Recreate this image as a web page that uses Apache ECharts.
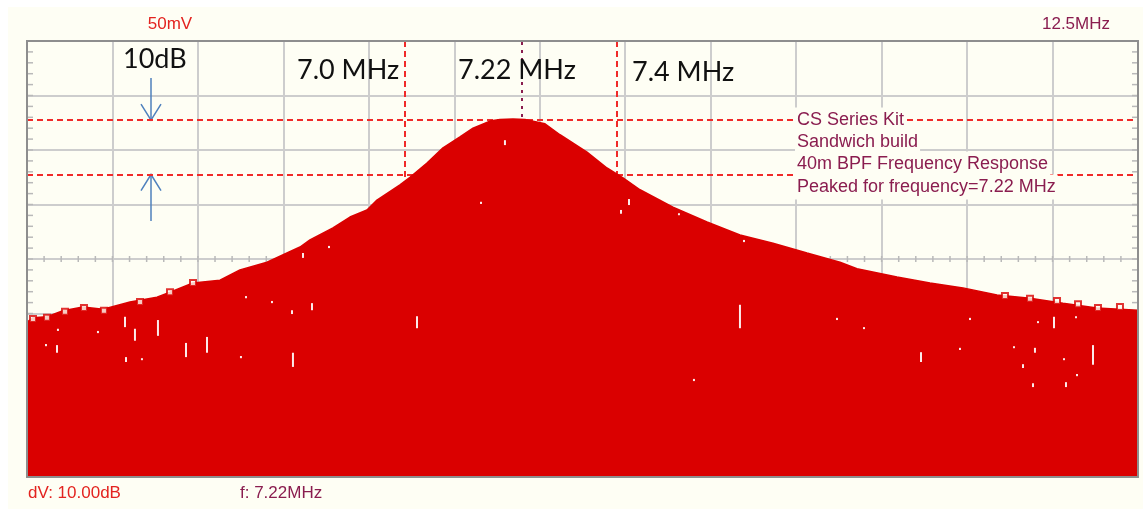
<!DOCTYPE html>
<html>
<head>
<meta charset="utf-8">
<title>40m BPF Frequency Response</title>
<script src="https://cdn.jsdelivr.net/npm/echarts@6/dist/echarts.min.js"></script>
<style>
  html, body { margin: 0; background: #ffffff; }
  #scope { position: absolute; left: 8px; top: 7px; width: 1135px; height: 502px; }
</style>
</head>
<body>
<div id="scope"></div>
<script>
// Frequency span shown on screen (MHz) and vertical scale (dB, 10 dB per division)
const X_MIN = 6.2874;
const X_MAX = 8.3836;
const Y_MIN = -80;
const Y_MAX = 0;
const H_DIVS = 13;
const V_DIVS = 8;

// Spectrum trace: frequency (MHz) and level (dB)
const traceFreq = [6.2874, 6.2987, 6.3251, 6.3553, 6.3930, 6.4308, 6.4817, 6.5326, 6.5572, 6.6006,
  6.6515, 6.6892, 6.7402, 6.7779, 6.8025, 6.8213, 6.8647, 6.8968, 6.9289, 6.9477,
  6.9911, 7.0100, 7.0421, 7.0723, 7.1043, 7.1289, 7.1609, 7.1798, 7.2043, 7.2270,
  7.2421, 7.2647, 7.2930, 7.3440, 7.3817, 7.4119, 7.4440, 7.5062, 7.5704, 7.6326,
  7.6949, 7.7591, 7.8213, 7.8534, 7.9289, 7.9911, 8.0534, 8.1175, 8.1798, 8.2421,
  8.3062, 8.3836];
const traceDb = [-51.6, -50.8, -50.6, -49.5, -48.8, -49.2, -47.9, -47.0, -46.1, -44.4,
  -43.9, -42.0, -40.6, -38.9, -37.8, -36.5, -34.3, -32.3, -31.0, -29.2,
  -26.4, -25.0, -22.4, -19.6, -17.6, -16.0, -14.7, -14.4, -14.3, -14.4,
  -14.7, -15.2, -17.2, -20.4, -23.3, -25.1, -27.3, -30.5, -33.2, -35.6,
  -37.1, -38.9, -40.6, -41.8, -43.3, -44.4, -45.3, -46.6, -47.2, -48.1,
  -49.0, -49.4];

// Isolated hold samples sitting just above the trace edge
const bumpFreq = [6.2987, 6.3251, 6.3591, 6.3949, 6.4326, 6.5006, 6.5572, 6.6006,
  8.1326, 8.1798, 8.2308, 8.2704, 8.3081, 8.3496];
const bumpDb = [-51.0, -50.8, -49.7, -49.0, -49.5, -47.9, -46.1, -44.4,
  -46.8, -47.3, -47.7, -48.3, -49.0, -48.8];

// Missing samples inside the filled trace: frequency and dB span
const dropFreq = [6.4911, 6.5345, 6.4723, 6.6270, 6.5874, 6.3440, 6.3232, 6.4742, 6.5043, 6.6911,
  6.7892, 6.7496, 6.7874, 6.7006, 6.4213, 6.3458, 6.8251, 7.0232, 7.1892, 7.1440,
  6.8081, 6.8572, 7.4232, 7.4081, 7.5175, 7.6402, 7.6326, 7.5458, 7.9742, 8.2251,
  8.2987, 8.1892, 8.1855, 8.2477, 8.1666, 8.1496, 8.2440, 8.2685, 8.0477, 8.0666,
  7.8666, 7.8157, 8.1949, 8.2666];
const dropTopDb = [-52.8, -51.2, -50.6, -54.3, -55.4, -55.8, -55.6, -58.0, -58.2, -57.8,
  -57.2, -47.7, -49.4, -46.8, -53.2, -52.8, -48.1, -50.5, -18.2, -29.5,
  -38.9, -37.6, -29.0, -31.0, -31.6, -36.5, -48.4, -62.0, -57.1, -50.6,
  -55.8, -56.3, -62.8, -62.6, -59.3, -56.0, -58.2, -61.1, -56.3, -50.8,
  -52.5, -50.8, -51.4, -50.5];
const dropBottomDb = [-55.0, -54.1, -52.5, -57.2, -58.0, -57.2, -56.0, -58.9, -58.5, -58.2,
  -59.8, -48.1, -50.1, -47.2, -53.6, -53.2, -49.4, -52.7, -19.1, -29.9,
  -39.8, -38.0, -30.1, -31.7, -31.9, -36.9, -52.7, -62.4, -58.9, -52.7,
  -59.4, -57.2, -63.5, -63.5, -60.0, -56.3, -58.5, -61.5, -56.7, -51.2,
  -52.8, -51.2, -51.7, -50.8];

// Cursors
const cursorFreqs = [7.0, 7.4];
const peakFreq = 7.22;
const refLevelsDb = [-14.5, -24.5];

// Texts
const topLeftLabel = '50mV';
const topRightLabel = '12.5MHz';
const bottomLeftLabel = 'dV: 10.00dB';
const bottomMidLabel = 'f: 7.22MHz';
const cursorLabels = ['7.0 MHz', '7.22 MHz', '7.4 MHz'];
const spanLabel = '10dB';
const noteLines = ['CS Series Kit', 'Sandwich build', '40m BPF Frequency Response', 'Peaked for frequency=7.22 MHz'];

const PANEL = '#fefef4';
const GRID_LINE = '#cdcdcd';
const TRACE_RED = '#da0000';
const CURSOR_RED = '#f02a2a';
const MAROON = '#8a1d4f';
const SCOPE_RED = '#e3231f';
const ARROW_BLUE = '#4f81bd';
const SCOPE_FONT = '"Liberation Sans", Arial, sans-serif';
const NOTE_FONT = 'Lato, "Open Sans", sans-serif';

const GRID = { left: 19, top: 34, width: 1111, height: 436 };

const chart = echarts.init(document.getElementById('scope'), null, { renderer: 'canvas' });

// Minor graticule ticks along the centre line and both side borders
const tickData = [];
for (let k = 1; k < H_DIVS * 5; k++) tickData.push([k / 5, V_DIVS / 2, 0]);
for (let k = 1; k < V_DIVS * 5; k++) {
  tickData.push([0, k / 5, 1]);
  tickData.push([H_DIVS, k / 5, 2]);
}

function renderTick(params, api) {
  const p = api.coord([api.value(0), api.value(1)]);
  const kind = api.value(2);
  let shape;
  if (kind === 0) shape = { x1: p[0], y1: p[1] - 3, x2: p[0], y2: p[1] + 3 };
  else if (kind === 1) shape = { x1: p[0], y1: p[1], x2: p[0] + 6, y2: p[1] };
  else shape = { x1: p[0] - 6, y1: p[1], x2: p[0], y2: p[1] };
  return { type: 'line', shape: shape, style: { stroke: '#b9b9b9', lineWidth: 1.5 } };
}

function renderDrop(params, api) {
  const a = api.coord([api.value(0), api.value(1)]);
  const b = api.coord([api.value(0), api.value(2)]);
  const h = Math.max(2, b[1] - a[1]);
  return { type: 'rect', shape: { x: a[0] - 1, y: a[1], width: 2, height: h }, style: { fill: '#fbeaea' } };
}

const traceData = traceFreq.map((f, i) => [f, traceDb[i]]);
const bumpData = bumpFreq.map((f, i) => [f, bumpDb[i]]);
const dropData = dropFreq.map((f, i) => [f, dropTopDb[i], dropBottomDb[i]]);

const dashed = { color: CURSOR_RED, type: [6, 4], width: 2 };
const cursorLines = cursorFreqs.map(f => ({ xAxis: f, lineStyle: dashed }))
  .concat(refLevelsDb.map(v => ({ yAxis: v, lineStyle: dashed })))
  .concat([{ xAxis: peakFreq, lineStyle: { color: MAROON, type: [3, 5], width: 2 } }]);

chart.setOption({
  animation: false,
  backgroundColor: PANEL,
  grid: Object.assign({ show: true, backgroundColor: PANEL, borderWidth: 0 }, GRID),
  xAxis: [
    { type: 'value', min: X_MIN, max: X_MAX, show: false },
    {
      type: 'value', min: 0, max: H_DIVS, interval: 1,
      axisLine: { show: false }, axisTick: { show: false }, axisLabel: { show: false },
      splitLine: { show: true, lineStyle: { color: GRID_LINE, width: 2 } }
    }
  ],
  yAxis: [
    {
      type: 'value', min: Y_MIN, max: Y_MAX, interval: 10,
      axisLine: { show: false }, axisTick: { show: false }, axisLabel: { show: false },
      splitLine: { show: true, lineStyle: { color: GRID_LINE, width: 2 } }
    },
    { type: 'value', min: 0, max: V_DIVS, show: false }
  ],
  series: [
    {
      name: 'graticule', type: 'custom', xAxisIndex: 1, yAxisIndex: 1,
      data: tickData, renderItem: renderTick, silent: true, z: 1
    },
    {
      name: 'cursors', type: 'line', xAxisIndex: 0, yAxisIndex: 0, data: [], z: 1,
      markLine: { silent: true, z: 1, symbol: 'none', label: { show: false }, data: cursorLines }
    },
    {
      name: 'spectrum', type: 'line', xAxisIndex: 0, yAxisIndex: 0, data: traceData,
      showSymbol: false, symbol: 'none', z: 2,
      lineStyle: { color: TRACE_RED, width: 1.5 },
      areaStyle: { color: TRACE_RED, opacity: 1, origin: 'start' }
    },
    {
      name: 'dropouts', type: 'custom', xAxisIndex: 0, yAxisIndex: 0,
      data: dropData, renderItem: renderDrop, silent: true, z: 3
    },
    {
      name: 'holds', type: 'scatter', xAxisIndex: 0, yAxisIndex: 0, data: bumpData,
      symbol: 'rect', symbolSize: 6, silent: true, z: 3,
      itemStyle: { color: PANEL, borderColor: TRACE_RED, borderWidth: 2 }
    }
  ]
});

// Annotation layer, placed after the scales exist
const yRefTop = chart.convertToPixel({ yAxisIndex: 0 }, refLevelsDb[0]);
const yRefBottom = chart.convertToPixel({ yAxisIndex: 0 }, refLevelsDb[1]);
const arrowX = 143;

function arrow(tipY, tailY, id) {
  const dir = tailY < tipY ? -1 : 1;
  return {
    type: 'group', id: id, z: 50,
    children: [
      { type: 'line', shape: { x1: arrowX, y1: tailY, x2: arrowX, y2: tipY }, style: { stroke: ARROW_BLUE, lineWidth: 1.5 } },
      { type: 'polyline', shape: { points: [[arrowX - 10, tipY + dir * 16], [arrowX, tipY], [arrowX + 10, tipY + dir * 16]] },
        style: { stroke: ARROW_BLUE, lineWidth: 1.5, fill: null } }
    ]
  };
}

function text(id, x, y, str, font, size, color, align, extra) {
  return {
    type: 'text', id: id, x: x, y: y, z: 60,
    style: Object.assign({
      text: str, fontFamily: font, fontSize: size, fill: color,
      align: align || 'left', verticalAlign: 'middle'
    }, extra || {})
  };
}

const noteBg = { backgroundColor: PANEL, padding: [3, 2, 4, 2] };

chart.setOption({
  graphic: [
    { type: 'rect', id: 'frame', z: 40, silent: true,
      shape: { x: GRID.left, y: GRID.top, width: GRID.width, height: GRID.height },
      style: { fill: null, stroke: '#8e8e8e', lineWidth: 2 } },
    text('tl', 162, 17, topLeftLabel, SCOPE_FONT, 17, SCOPE_RED, 'center'),
    text('tr', 1102, 17, topRightLabel, SCOPE_FONT, 17, MAROON, 'right'),
    text('bl', 20, 486, bottomLeftLabel, SCOPE_FONT, 17, SCOPE_RED),
    text('bm', 232, 486, bottomMidLabel, SCOPE_FONT, 17, MAROON),
    text('span', 115, 52, spanLabel, NOTE_FONT, 27, '#111111'),
    text('c0', 289, 63, cursorLabels[0], NOTE_FONT, 27, '#111111'),
    text('c1', 450, 63, cursorLabels[1], NOTE_FONT, 27, '#111111'),
    text('c2', 624, 65, cursorLabels[2], NOTE_FONT, 27, '#111111'),
    text('n0', 787, 113, noteLines[0], SCOPE_FONT, 18, MAROON, 'left', noteBg),
    text('n1', 787, 135, noteLines[1], SCOPE_FONT, 18, MAROON, 'left', noteBg),
    text('n2', 787, 157, noteLines[2], SCOPE_FONT, 18, MAROON, 'left', noteBg),
    text('n3', 787, 180, noteLines[3], SCOPE_FONT, 18, MAROON, 'left', noteBg),
    arrow(yRefTop, 71, 'arrowDown'),
    arrow(yRefBottom, 214, 'arrowUp')
  ]
});
</script>
</body>
</html>
